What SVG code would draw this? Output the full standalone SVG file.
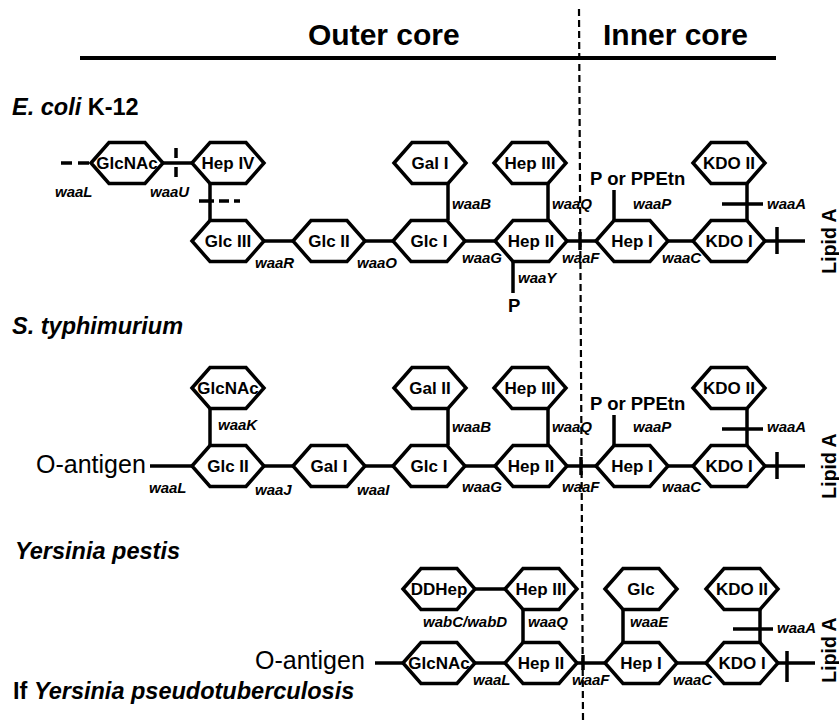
<svg xmlns="http://www.w3.org/2000/svg" xmlns:xlink="http://www.w3.org/1999/xlink" width="839" height="725" viewBox="0 0 839 725">
<defs>
<path id="hex" d="M-36,0 L-18,-20.5 L18,-20.5 L36,0 L18,20.5 L-18,20.5 Z"/>
<style>
.hx{fill:#fff;stroke:#000;stroke-width:3.5;stroke-linejoin:miter}
.ht{font-family:"Liberation Sans",Arial,sans-serif;font-weight:bold;font-size:17px;text-anchor:middle;fill:#000}
.ln{stroke:#000;stroke-width:3.5;fill:none}
.dl{stroke:#000;stroke-width:2.2;fill:none;stroke-dasharray:7 4}
.g{font-family:"Liberation Sans",Arial,sans-serif;font-weight:bold;font-style:italic;font-size:15px;fill:#000}
.sp{font-family:"Liberation Sans",Arial,sans-serif;font-weight:bold;font-size:23.5px;fill:#000}
.hd{font-family:"Liberation Sans",Arial,sans-serif;font-weight:bold;font-size:30px;fill:#000}
.oa{font-family:"Liberation Sans",Arial,sans-serif;font-size:25px;fill:#000}
.pp{font-family:"Liberation Sans",Arial,sans-serif;font-weight:bold;font-size:18.5px;fill:#000}
.la{font-family:"Liberation Sans",Arial,sans-serif;font-weight:bold;font-size:19.5px;text-anchor:middle;fill:#000}
</style>
</defs>
<rect width="839" height="725" fill="#fff"/>

<g id="header">
<line x1="80" y1="58" x2="776" y2="58" stroke="#000" stroke-width="4"/>
<text class="hd" x="308" y="45">Outer core</text>
<text class="hd" x="603" y="45">Inner core</text>
</g>

<g id="connectors">
<path class="dl" d="M579,9 L583,720"/>
<!-- Row 1 -->
<path class="ln" d="M61,163 H90" stroke-dasharray="11 6"/>
<path class="ln" d="M163,163 H192"/>
<path class="ln" d="M176,148 V158 M176,167 V177"/>
<path class="ln" d="M210,183.5 V220.5"/>
<path class="ln" d="M199,201 H214 M219,201 H229 M234,201 H240"/>
<path class="ln" d="M264,241 H293"/>
<path class="ln" d="M365,241 H393"/>
<path class="ln" d="M448,183.5 V220.5"/>
<path class="ln" d="M465,241 H495"/>
<path class="ln" d="M548,183.5 V220.5"/>
<path class="ln" d="M513,261.5 V293"/>
<path class="ln" d="M567,241 H596"/>
<path class="ln" d="M580,232 V250" stroke-width="2.5"/>
<path class="ln" d="M614,220.5 V190"/>
<path class="ln" d="M668,241 H693"/>
<path class="ln" d="M747,183.5 V220.5"/>
<path class="ln" d="M722,204 H763"/>
<path class="ln" d="M765,241 H805"/>
<path class="ln" d="M777,227 V254"/>
<!-- Row 2 -->
<path class="ln" d="M150,466 H192"/>
<path class="ln" d="M210,408.5 V445.5"/>
<path class="ln" d="M264,466 H293"/>
<path class="ln" d="M365,466 H393"/>
<path class="ln" d="M448,408.5 V445.5"/>
<path class="ln" d="M465,466 H495"/>
<path class="ln" d="M548,408.5 V445.5"/>
<path class="ln" d="M567,466 H596"/>
<path class="ln" d="M581,457 V475" stroke-width="2.5"/>
<path class="ln" d="M614,445.5 V415"/>
<path class="ln" d="M668,466 H693"/>
<path class="ln" d="M747,408.5 V445.5"/>
<path class="ln" d="M722,429 H763"/>
<path class="ln" d="M765,466 H805"/>
<path class="ln" d="M777,452 V479"/>
<!-- Row 3 -->
<path class="ln" d="M375,663 H403"/>
<path class="ln" d="M475,589 H505"/>
<path class="ln" d="M523,609.5 V642.5"/>
<path class="ln" d="M475,663 H505"/>
<path class="ln" d="M577,663 H605"/>
<path class="ln" d="M583,655 V670" stroke-width="2.5"/>
<path class="ln" d="M623,609.5 V642.5"/>
<path class="ln" d="M677,663 H706"/>
<path class="ln" d="M760,609.5 V642.5"/>
<path class="ln" d="M733,629 H773"/>
<path class="ln" d="M778,663 H815"/>
<path class="ln" d="M787,651 V682"/>
</g>

<!-- Row 1 nodes: E. coli K-12 -->
<g id="ecoli-GlcNAc"><use xlink:href="#hex" class="hx" x="127" y="163"/><text class="ht" x="127" y="169">GlcNAc</text></g>
<g id="ecoli-HepIV"><use xlink:href="#hex" class="hx" x="228" y="163"/><text class="ht" x="228" y="169">Hep IV</text></g>
<g id="ecoli-GlcIII"><use xlink:href="#hex" class="hx" x="228" y="241"/><text class="ht" x="228" y="247">Glc III</text></g>
<g id="ecoli-GlcII"><use xlink:href="#hex" class="hx" x="329" y="241"/><text class="ht" x="329" y="247">Glc II</text></g>
<g id="ecoli-GlcI"><use xlink:href="#hex" class="hx" x="429" y="241"/><text class="ht" x="429" y="247">Glc I</text></g>
<g id="ecoli-GalI"><use xlink:href="#hex" class="hx" x="430" y="163"/><text class="ht" x="430" y="169">Gal I</text></g>
<g id="ecoli-HepIII"><use xlink:href="#hex" class="hx" x="530" y="163"/><text class="ht" x="530" y="169">Hep III</text></g>
<g id="ecoli-HepII"><use xlink:href="#hex" class="hx" x="531" y="241"/><text class="ht" x="531" y="247">Hep II</text></g>
<g id="ecoli-HepI"><use xlink:href="#hex" class="hx" x="632" y="241"/><text class="ht" x="632" y="247">Hep I</text></g>
<g id="ecoli-KDOI"><use xlink:href="#hex" class="hx" x="729" y="241"/><text class="ht" x="729" y="247">KDO I</text></g>
<g id="ecoli-KDOII"><use xlink:href="#hex" class="hx" x="729" y="163"/><text class="ht" x="729" y="169">KDO II</text></g>

<!-- Row 2 nodes: S. typhimurium -->
<g id="st-GlcNAc"><use xlink:href="#hex" class="hx" x="228" y="388"/><text class="ht" x="228" y="394">GlcNAc</text></g>
<g id="st-GlcII"><use xlink:href="#hex" class="hx" x="228" y="466"/><text class="ht" x="228" y="472">Glc II</text></g>
<g id="st-GalI"><use xlink:href="#hex" class="hx" x="329" y="466"/><text class="ht" x="329" y="472">Gal I</text></g>
<g id="st-GlcI"><use xlink:href="#hex" class="hx" x="429" y="466"/><text class="ht" x="429" y="472">Glc I</text></g>
<g id="st-GalII"><use xlink:href="#hex" class="hx" x="430" y="388"/><text class="ht" x="430" y="394">Gal II</text></g>
<g id="st-HepIII"><use xlink:href="#hex" class="hx" x="530" y="388"/><text class="ht" x="530" y="394">Hep III</text></g>
<g id="st-HepII"><use xlink:href="#hex" class="hx" x="531" y="466"/><text class="ht" x="531" y="472">Hep II</text></g>
<g id="st-HepI"><use xlink:href="#hex" class="hx" x="632" y="466"/><text class="ht" x="632" y="472">Hep I</text></g>
<g id="st-KDOI"><use xlink:href="#hex" class="hx" x="729" y="466"/><text class="ht" x="729" y="472">KDO I</text></g>
<g id="st-KDOII"><use xlink:href="#hex" class="hx" x="729" y="388"/><text class="ht" x="729" y="394">KDO II</text></g>

<!-- Row 3 nodes: Yersinia -->
<g id="yp-DDHep"><use xlink:href="#hex" class="hx" x="439" y="589"/><text class="ht" x="439" y="595">DDHep</text></g>
<g id="yp-HepIII"><use xlink:href="#hex" class="hx" x="541" y="589"/><text class="ht" x="541" y="595">Hep III</text></g>
<g id="yp-Glc"><use xlink:href="#hex" class="hx" x="641" y="589"/><text class="ht" x="641" y="595">Glc</text></g>
<g id="yp-KDOII"><use xlink:href="#hex" class="hx" x="742" y="589"/><text class="ht" x="742" y="595">KDO II</text></g>
<g id="yp-GlcNAc"><use xlink:href="#hex" class="hx" x="439" y="663"/><text class="ht" x="439" y="669">GlcNAc</text></g>
<g id="yp-HepII"><use xlink:href="#hex" class="hx" x="541" y="663"/><text class="ht" x="541" y="669">Hep II</text></g>
<g id="yp-HepI"><use xlink:href="#hex" class="hx" x="641" y="663"/><text class="ht" x="641" y="669">Hep I</text></g>
<g id="yp-KDOI"><use xlink:href="#hex" class="hx" x="742" y="663"/><text class="ht" x="742" y="669">KDO I</text></g>

<g id="labels">
<text class="sp" x="12" y="115"><tspan font-style="italic">E. coli</tspan> K-12</text>
<text class="sp" x="12" y="334" font-style="italic">S. typhimurium</text>
<text class="sp" x="15" y="559" font-style="italic">Yersinia pestis</text>
<text class="sp" x="13" y="699">If <tspan font-style="italic">Yersinia pseudotuberculosis</tspan></text>
<text class="oa" x="36" y="473">O-antigen</text>
<text class="oa" x="255" y="669">O-antigen</text>

<text class="g" x="55" y="197">waaL</text>
<text class="g" x="150" y="197">waaU</text>
<text class="g" x="255" y="268">waaR</text>
<text class="g" x="357" y="268">waaO</text>
<text class="g" x="452" y="209">waaB</text>
<text class="g" x="552" y="209">waaQ</text>
<text class="g" x="462" y="263">waaG</text>
<text class="g" x="518" y="283">waaY</text>
<text class="pp" x="508" y="312">P</text>
<text class="g" x="562" y="263">waaF</text>
<text class="pp" x="590" y="185">P or PPEtn</text>
<text class="g" x="633" y="209">waaP</text>
<text class="g" x="662" y="263">waaC</text>
<text class="g" x="767" y="209">waaA</text>
<text class="la" transform="translate(836,241) rotate(-90)">Lipid A</text>

<text class="g" x="218" y="430">waaK</text>
<text class="g" x="149" y="493">waaL</text>
<text class="g" x="255" y="495">waaJ</text>
<text class="g" x="357" y="495">waaI</text>
<text class="g" x="452" y="432">waaB</text>
<text class="g" x="552" y="432">waaQ</text>
<text class="g" x="462" y="492">waaG</text>
<text class="g" x="562" y="492">waaF</text>
<text class="pp" x="590" y="410">P or PPEtn</text>
<text class="g" x="633" y="432">waaP</text>
<text class="g" x="662" y="492">waaC</text>
<text class="g" x="767" y="432">waaA</text>
<text class="la" transform="translate(836,466) rotate(-90)">Lipid A</text>

<text class="g" x="423" y="627">wabC/wabD</text>
<text class="g" x="528" y="627">waaQ</text>
<text class="g" x="630" y="627">waaE</text>
<text class="g" x="777" y="633">waaA</text>
<text class="g" x="473" y="685">waaL</text>
<text class="g" x="572" y="685">waaF</text>
<text class="g" x="673" y="685">waaC</text>
<text class="la" transform="translate(836,650) rotate(-90)">Lipid A</text>
</g>
</svg>
